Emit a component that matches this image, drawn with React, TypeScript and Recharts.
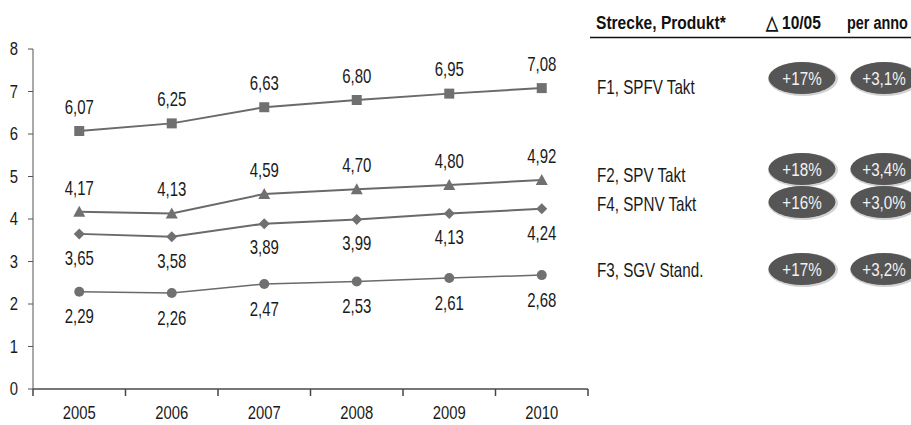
import React from 'react';
import { LineChart, Line, XAxis, YAxis, LabelList } from 'recharts';

const years = [2005, 2006, 2007, 2008, 2009, 2010];
const f1Values = [6.07, 6.25, 6.63, 6.8, 6.95, 7.08];
const f2Values = [4.17, 4.13, 4.59, 4.7, 4.8, 4.92];
const f4Values = [3.65, 3.58, 3.89, 3.99, 4.13, 4.24];
const f3Values = [2.29, 2.26, 2.47, 2.53, 2.61, 2.68];
const yTicks = [0, 1, 2, 3, 4, 5, 6, 7, 8];

const tableHeader = ['Strecke, Produkt*', '\u25B3 10/05', 'per anno'];
const rowLabels = ['F1, SPFV Takt', 'F2, SPV Takt', 'F4, SPNV Takt', 'F3, SGV Stand.'];
const deltaLabels = ['+17%', '+18%', '+16%', '+17%'];
const perAnnoLabels = ['+3,1%', '+3,4%', '+3,0%', '+3,2%'];

// layout (positions only)
const rowBaselines = [94, 182, 211, 277];
const pillCenters = [78, 169, 202, 269];

const FONT = "'Liberation Sans', Arial, sans-serif";
const LINE_COLOR = '#6a6a6a';
const MARK_COLOR = '#707070';
const TEXT_COLOR = '#1a1a1a';

const data = years.map((year, i) => ({
  year,
  f1: f1Values[i],
  f2: f2Values[i],
  f4: f4Values[i],
  f3: f3Values[i],
}));

const xTicks: number[] = [];
years.forEach((y, i) => {
  if (i === 0) xTicks.push(y - 0.5);
  xTicks.push(y);
  xTicks.push(y + 0.5);
});

const fmt = (v: number) => v.toFixed(2).replace('.', ',');

const NText = ({
  x,
  y,
  anchor = 'start',
  size = 20,
  sx = 0.76,
  fill = TEXT_COLOR,
  baseline,
  weight,
  children,
}: any) => (
  <g transform={`translate(${x} ${y}) scale(${sx} 1)`}>
    <text
      x={0}
      y={0}
      textAnchor={anchor}
      dominantBaseline={baseline}
      fontSize={size}
      fontWeight={weight}
      fill={fill}
      fontFamily={FONT}
    >
      {children}
    </text>
  </g>
);

const XTick = (props: any) => {
  const { x, y, payload } = props;
  const v = payload.value as number;
  if (Number.isInteger(v)) {
    return (
      <NText x={x} y={y + 30} anchor="middle" size={19} sx={0.78}>
        {v}
      </NText>
    );
  }
  return <line x1={x} x2={x} y1={y} y2={y + 7} stroke="#444" strokeWidth={1.5} />;
};

const YTick = (props: any) => {
  const { x, y, payload } = props;
  return (
    <NText x={x} y={y} anchor="end" baseline="central" size={19} sx={0.78}>
      {payload.value}
    </NText>
  );
};

const makeLabel = (offset: number) => (p: any) => {
  const { x, y, value, index } = p;
  return (
    <NText key={index} x={x} y={y + offset} anchor="middle" baseline="central" size={20} sx={0.75}>
      {fmt(Number(value))}
    </NText>
  );
};

const SquareDot = (p: any) => (
  <rect key={p.index} x={p.cx - 5} y={p.cy - 5} width={10} height={10} fill={MARK_COLOR} />
);
const TriangleDot = (p: any) => (
  <polygon
    key={p.index}
    points={`${p.cx},${p.cy - 6} ${p.cx + 6},${p.cy + 5} ${p.cx - 6},${p.cy + 5}`}
    fill={MARK_COLOR}
  />
);
const DiamondDot = (p: any) => (
  <polygon
    key={p.index}
    points={`${p.cx},${p.cy - 5.5} ${p.cx + 5.5},${p.cy} ${p.cx},${p.cy + 5.5} ${p.cx - 5.5},${p.cy}`}
    fill={MARK_COLOR}
  />
);
const CircleDot = (p: any) => <circle key={p.index} cx={p.cx} cy={p.cy} r={5} fill={MARK_COLOR} />;

const Pill = ({ cx, cy, text }: { cx: number; cy: number; text: string }) => (
  <g>
    <ellipse cx={cx + 1} cy={cy + 1} rx={35} ry={17} fill="#d2d2d2" />
    <ellipse cx={cx} cy={cy} rx={33.5} ry={16} fill="#555555" />
    <NText x={cx} y={cy} anchor="middle" baseline="central" size={19} sx={0.8} fill="#f2f2f2">
      {text}
    </NText>
  </g>
);

export default function App() {
  return (
    <div style={{ position: 'absolute', left: 0, top: 0, width: 911, height: 425, background: '#fff' }}>
      <LineChart
        width={911}
        height={425}
        data={data}
        margin={{ top: 49, right: 323, bottom: 0, left: 0 }}
        style={{ fontFamily: FONT }}
      >
        <XAxis
          dataKey="year"
          type="number"
          domain={[2004.5, 2010.5]}
          ticks={xTicks}
          interval={0}
          tickLine={false}
          tickSize={0}
          tickMargin={0}
          height={36}
          axisLine={{ stroke: '#777', strokeWidth: 2 }}
          tick={<XTick />}
        />
        <YAxis
          width={33}
          domain={[0, 8]}
          ticks={yTicks}
          interval={0}
          tickSize={5}
          tickMargin={10}
          axisLine={{ stroke: '#555', strokeWidth: 1 }}
          tickLine={{ stroke: '#555', strokeWidth: 1 }}
          tick={<YTick />}
        />
        <Line dataKey="f1" stroke={LINE_COLOR} strokeWidth={2} dot={SquareDot} isAnimationActive={false}>
          <LabelList dataKey="f1" content={makeLabel(-24)} />
        </Line>
        <Line dataKey="f2" stroke={LINE_COLOR} strokeWidth={2} dot={TriangleDot} isAnimationActive={false}>
          <LabelList dataKey="f2" content={makeLabel(-24)} />
        </Line>
        <Line dataKey="f4" stroke={LINE_COLOR} strokeWidth={2} dot={DiamondDot} isAnimationActive={false}>
          <LabelList dataKey="f4" content={makeLabel(24)} />
        </Line>
        <Line dataKey="f3" stroke={LINE_COLOR} strokeWidth={1.5} dot={CircleDot} isAnimationActive={false}>
          <LabelList dataKey="f3" content={makeLabel(25)} />
        </Line>
      </LineChart>
      <svg
        width={911}
        height={425}
        style={{ position: 'absolute', left: 0, top: 0, pointerEvents: 'none' }}
        fontFamily={FONT}
      >
        <NText x={596} y={29} size={19} sx={0.82} weight="bold" fill="#111">
          {tableHeader[0]}
        </NText>
        <NText x={766} y={29} size={19} sx={0.82} weight="bold" fill="#111">
          {tableHeader[1]}
        </NText>
        <NText x={847} y={29} size={19} sx={0.76} weight="bold" fill="#111">
          {tableHeader[2]}
        </NText>
        <line x1={590} x2={911} y1={37.5} y2={37.5} stroke="#111" strokeWidth={1.3} />
        {rowLabels.map((label, i) => (
          <g key={label}>
            <NText x={597} y={rowBaselines[i]} size={20} sx={0.76}>
              {label}
            </NText>
            <Pill cx={802} cy={pillCenters[i]} text={deltaLabels[i]} />
            <Pill cx={884} cy={pillCenters[i]} text={perAnnoLabels[i]} />
          </g>
        ))}
      </svg>
    </div>
  );
}
